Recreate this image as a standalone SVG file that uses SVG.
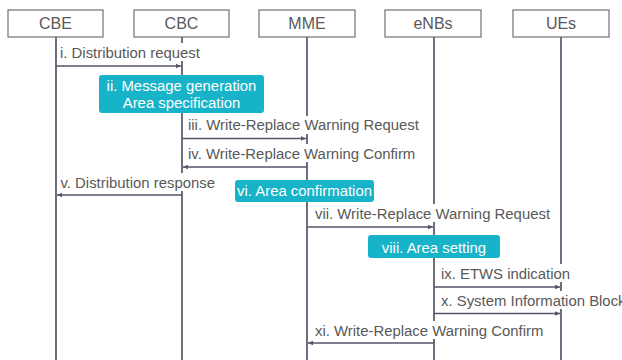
<svg xmlns="http://www.w3.org/2000/svg" width="622" height="360" viewBox="0 0 622 360">
<defs>
<style>
.hdr{fill:#fff;stroke:#6e6e78;stroke-width:1.2}
.hdrt{font-family:"Liberation Sans",Arial,sans-serif;font-size:16px;fill:#595959;text-anchor:middle}
.life{stroke:#55556a;stroke-width:1.7;fill:none}
.msg{stroke:#55556a;stroke-width:1.3;fill:none;marker-end:url(#ah)}
.lbl{font-family:"Liberation Sans",Arial,sans-serif;font-size:14.9px;fill:#595959}
.bg{fill:#fff}
.act{fill:#17b3c8}
.actt{font-family:"Liberation Sans",Arial,sans-serif;font-size:14.9px;fill:#fff;text-anchor:middle}
</style>
<marker id="ah" markerWidth="6" markerHeight="6" refX="5" refY="3" orient="auto" markerUnits="userSpaceOnUse">
<path d="M0,0.8 L5,3 L0,5.2 Z" fill="#55556a"/>
</marker>
</defs>
<rect width="622" height="360" fill="#fff"/>
<g id="lifelines">
<line class="life" x1="56" y1="37" x2="56" y2="360"/>
<line class="life" x1="182" y1="37" x2="182" y2="360"/>
<line class="life" x1="307" y1="37" x2="307" y2="360"/>
<line class="life" x1="434" y1="37" x2="434" y2="360"/>
<line class="life" x1="561" y1="37" x2="561" y2="360"/>
</g>
<g id="node-CBE"><rect class="hdr" x="8" y="10" width="95" height="27"/><text class="hdrt" x="55.5" y="29">CBE</text></g>
<g id="node-CBC"><rect class="hdr" x="134" y="10" width="95" height="27"/><text class="hdrt" x="181.5" y="29">CBC</text></g>
<g id="node-MME"><rect class="hdr" x="259" y="10" width="96" height="27"/><text class="hdrt" x="307" y="29">MME</text></g>
<g id="node-eNBs"><rect class="hdr" x="385" y="10" width="96" height="27"/><text class="hdrt" x="433" y="29">eNBs</text></g>
<g id="node-UEs"><rect class="hdr" x="513" y="10" width="96" height="27"/><text class="hdrt" x="561" y="29">UEs</text></g>
<g id="connectors">
<rect class="bg" x="58" y="43" width="146" height="18"/>
<text class="lbl" x="60" y="57.5">i. Distribution request</text>
<line class="msg" x1="56" y1="66" x2="181" y2="66"/>
<rect class="bg" x="185" y="116" width="238" height="18"/>
<text class="lbl" x="188" y="130">iii. Write-Replace Warning Request</text>
<line class="msg" x1="182" y1="138.5" x2="306" y2="138.5"/>
<rect class="bg" x="185" y="144" width="234" height="18"/>
<text class="lbl" x="188" y="158.5">iv. Write-Replace Warning Confirm</text>
<line class="msg" x1="307" y1="167" x2="183" y2="167"/>
<rect class="bg" x="58" y="173" width="162" height="18"/>
<text class="lbl" x="60.5" y="187.5">v. Distribution response</text>
<line class="msg" x1="182" y1="195" x2="57" y2="195"/>
<rect class="bg" x="312" y="204" width="244" height="18"/>
<text class="lbl" x="315" y="218.5">vii. Write-Replace Warning Request</text>
<line class="msg" x1="307" y1="227" x2="433" y2="227"/>
<rect class="bg" x="438" y="264" width="138" height="18"/>
<text class="lbl" x="441" y="279">ix. ETWS indication</text>
<line class="msg" x1="434" y1="287" x2="560" y2="287"/>
<rect class="bg" x="438" y="291" width="190" height="18"/>
<text class="lbl" x="441" y="306">x. System Information Block</text>
<line class="msg" x1="434" y1="313.5" x2="560" y2="313.5"/>
<rect class="bg" x="312" y="321" width="236" height="18"/>
<text class="lbl" x="315" y="336">xi. Write-Replace Warning Confirm</text>
<line class="msg" x1="434" y1="343" x2="308" y2="343"/>
</g>
<g id="node-ii">
<rect class="act" x="99" y="75" width="165" height="38" rx="3"/>
<text class="actt" x="181.5" y="91">ii. Message generation</text>
<text class="actt" x="181.5" y="107.5">Area specification</text>
</g>
<g id="node-vi">
<rect class="act" x="235" y="180" width="139" height="22" rx="3"/>
<text class="actt" x="304.5" y="196">vi. Area confirmation</text>
</g>
<g id="node-viii">
<rect class="act" x="368" y="235" width="132" height="23" rx="3"/>
<text class="actt" x="434" y="252.5">viii. Area setting</text>
</g>
</svg>
